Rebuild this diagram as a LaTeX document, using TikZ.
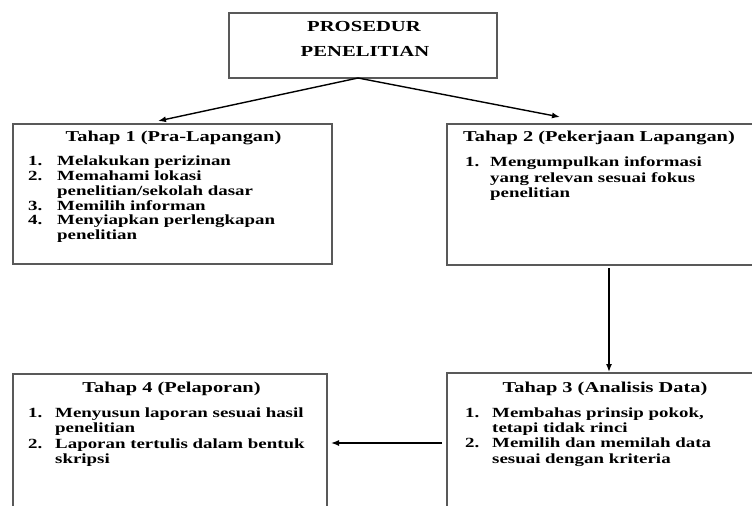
\documentclass[tikz,border=0pt]{standalone}
\usepackage{fontspec}
\setmainfont{Liberation Serif}[FakeStretch=1.35]
\usetikzlibrary{arrows.meta,calc}
\definecolor{boxgray}{gray}{0.35}
\tikzset{
  box/.style={draw=boxgray, line width=1.3bp, inner sep=0pt, outer sep=0pt},
  ttl/.style={inner sep=0pt, font=\fontsize{15.3bp}{17bp}\selectfont\bfseries},
  hd/.style={inner sep=0pt, font=\fontsize{15.1bp}{17bp}\selectfont\bfseries},
  it/.style={inner sep=0pt, anchor=base west, font=\fontsize{14bp}{15bp}\selectfont\bfseries},
  conn/.style={line width=1.4bp, -{Latex[length=8bp,width=6bp]}}
}
\begin{document}
\begin{tikzpicture}[x=1bp,y=-1bp]
\useasboundingbox (0,0) rectangle (752,506);
\clip (0,0) rectangle (752,506);
% boxes
\node[box, minimum width=268bp, minimum height=65bp] (top) at (363,45.5) {};
\node[box, minimum width=319bp, minimum height=140bp] (b1) at (172.5,194) {};
\node[box, minimum width=316bp, minimum height=141bp] (b2) at (605,194.5) {};
\node[box, minimum width=316bp, minimum height=147bp] (b3) at (605,446.5) {};
\node[box, minimum width=314bp, minimum height=146bp] (b4) at (170,447) {};
% title
\node[ttl, anchor=base] (tt1) at (364,32) {PROSEDUR};
\node[ttl, anchor=base] (tt2) at (365,57) {PENELITIAN};
% box 1
\node[hd, anchor=base] (h1) at (173.5,142) {Tahap 1 (Pra-Lapangan)};
\node[it] (a1n) at (28,166) {1.};
\node[it] (a1) at (57,166) {Melakukan perizinan};
\node[it] (a2n) at (28,180.7) {2.};
\node[it] (a2) at (57,180.7) {Memahami lokasi};
\node[it] (a2b) at (57,195.4) {penelitian/sekolah dasar};
\node[it] (a3n) at (28,210.1) {3.};
\node[it] (a3) at (57,210.1) {Memilih informan};
\node[it] (a4n) at (28,224.8) {4.};
\node[it] (a4) at (57,224.8) {Menyiapkan perlengkapan};
\node[it] (a4b) at (57,239.5) {penelitian};
% box 2
\node[hd, anchor=base west] (h2) at (463,142) {Tahap 2 (Pekerjaan Lapangan)};
\node[it] (c1n) at (465,167) {1.};
\node[it] (c1) at (490,167) {Mengumpulkan informasi};
\node[it] (c1b) at (490,182.5) {yang relevan sesuai fokus};
\node[it] (c1c) at (490,198) {penelitian};
% box 3
\node[hd, anchor=base] (h3) at (605,392) {Tahap 3 (Analisis Data)};
\node[it] (d1n) at (465,417) {1.};
\node[it] (d1) at (492,417) {Membahas prinsip pokok,};
\node[it] (d1b) at (492,432.3) {tetapi tidak rinci};
\node[it] (d2n) at (465,447.6) {2.};
\node[it] (d2) at (492,447.6) {Memilih dan memilah data};
\node[it] (d2b) at (492,463) {sesuai dengan kriteria};
% box 4
\node[hd, anchor=base] (h4) at (171.5,392) {Tahap 4 (Pelaporan)};
\node[it] (e1n) at (28,417) {1.};
\node[it] (e1) at (55,417) {Menyusun laporan sesuai hasil};
\node[it] (e1b) at (55,432.5) {penelitian};
\node[it] (e2n) at (28,448) {2.};
\node[it] (e2) at (55,448) {Laporan tertulis dalam bentuk};
\node[it] (e2b) at (55,463.5) {skripsi};
% connectors
\coordinate (apex) at ($(top.south)+(-5,0)$);
\coordinate (t1) at ($(b1.north)+(-14.5,-3)$);
\coordinate (t2) at ($(b2.north)+(-45,-7)$);
\coordinate (v1) at ($(b2.south)+(4,3)$);
\coordinate (v2) at ($(b3.north)+(4,-1)$);
\coordinate (hz1) at ($(b3.west)+(-5,-3.5)$);
\coordinate (hz2) at ($(b4.east)+(4,-4)$);
\draw[conn] (apex) -- (t1);
\draw[conn] (apex) -- (t2);
\draw[conn] (v1) -- (v2);
\draw[conn] (hz1) -- (hz2);
\end{tikzpicture}
\end{document}
